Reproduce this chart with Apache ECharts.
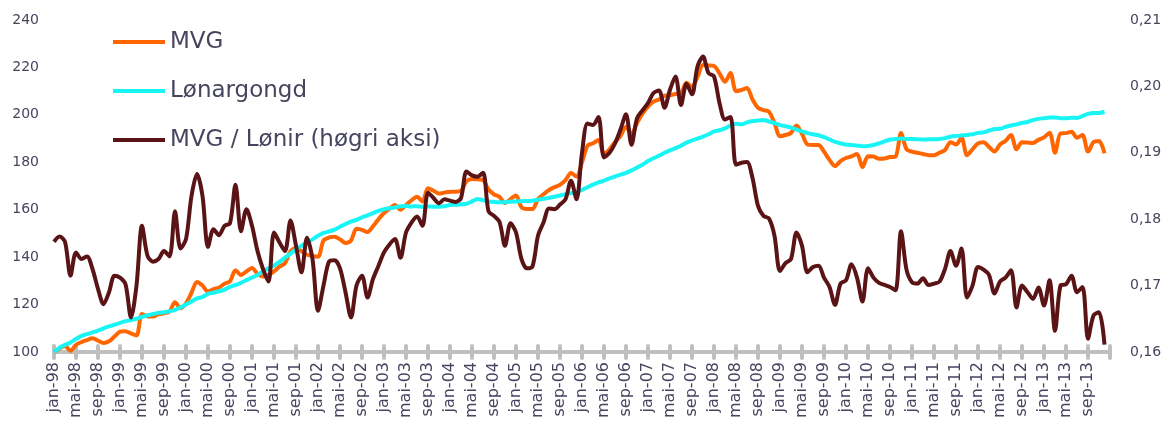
<!DOCTYPE html>
<html>
<head>
<meta charset="utf-8">
<script src="https://cdn.jsdelivr.net/npm/echarts@6/dist/echarts.min.js"></script>
<style>
  html, body { margin: 0; padding: 0; background: #fff; }
  #chart { width: 1168px; height: 421px; }
</style>
</head>
<body>
<div id="chart"></div>
<script>
  // månadsnamn brukt i x-aksen
  var monthNames = ['jan', 'feb', 'mar', 'apr', 'mai', 'jun', 'jul', 'aug', 'sep', 'okt', 'nov', 'des'];
  var firstYear = 1998;
  var lastYear = 2013;

  // MVG (venstre akse), jan-98 .. des-13
  var mvg = [
    100, 101.5, 102.5, 100.5, 103, 104.2, 105, 105.8, 104.8, 103.8, 104.5, 106.5,
    108.6, 108.8, 107.8, 107, 116, 115, 115, 116, 116.3, 117, 121, 118.5,
    120.5, 125, 129.5, 128, 125.5, 126.5, 127.2, 128.8, 129.8, 134.5, 132.5, 134,
    135.4, 133, 131.8, 132.5, 134, 136, 137.5, 142.5, 143.8, 142.5, 141, 140.5,
    140.2, 147, 148.3, 148.6, 147.5, 146, 147, 152, 151.5, 150.6, 153, 156,
    158.6, 160.5, 162, 160, 162, 164, 165.5, 163.5, 169, 168, 166.8, 167.2,
    167.6, 167.6, 168, 172, 173, 172.8, 172.5, 168.5, 166.5, 165.4, 162.8, 164.5,
    166, 161, 160.3, 160.3, 164.5, 166.5, 168.3, 169.5, 170.5, 172.5, 175.5, 174,
    180, 187, 188, 189.4, 183.5, 185.5, 188.5, 191, 195, 192, 196.5, 200.5,
    203.5, 205.6, 206.5, 208, 208.3, 208.8, 209.2, 213.5, 211.9, 216, 221, 220.8,
    220.6, 217.5, 214, 217.6, 210, 210.5, 211.3, 206.5, 203, 202, 201.3, 196.5,
    191, 191.5, 192.4, 195.5, 192, 187.5, 187.3, 187.3, 184.5, 181, 178.4, 180.5,
    181.8, 182.5, 183.5, 178, 182.5, 182.4, 181.5, 181.6, 182.2, 182.4, 192.3, 185.5,
    184.5, 184, 183.5, 183, 183, 184, 185.2, 188.5, 187.5, 190.3, 183, 185.5,
    188, 188.5, 186.5, 184.5, 187.5, 189, 191.5, 185.5, 188.5, 188.3, 188.1, 189.5,
    190.5, 192.5, 184, 192.2, 192.3, 192.9, 190.3, 191.5, 184.5, 188.5, 189, 183.8
  ];

  // Lønargongd (venstre akse)
  var lonargongd = [
    100, 101.8, 103, 104, 105.5, 106.8, 107.5, 108.3, 109, 110, 110.8, 111.5,
    112.3, 113, 113.5, 114, 114.8, 115.5, 116, 116.5, 116.8, 117.2, 117.8, 118.8,
    120, 121.3, 122.6, 123.2, 124.5, 125, 125.6, 126.3, 127.5, 128.2, 129.2, 130.3,
    131.4, 132.5, 134, 135.3, 136.5, 138, 139.8, 141.5, 143.3, 144.8, 146.2, 147.5,
    149, 150.2, 150.8, 151.6, 152.8, 154, 155, 155.7, 156.8, 157.6, 158.6, 159.5,
    160.2, 160.6, 161, 161.5, 161.6, 161.4, 161.5, 161.2, 161.4, 161.3, 161.3, 161.5,
    162, 162.1, 162.3, 162.5, 163.5, 164.5, 164, 163.5, 163.3, 163.2, 163.2, 163.4,
    163.5, 163.6, 163.7, 163.8, 164.2, 164.6, 165, 165.5, 166, 166.5, 167, 167.4,
    168.3, 169.5, 170.6, 171.5, 172.3, 173.2, 174, 174.8, 175.5, 176.6, 177.8, 179,
    180.5, 181.7, 182.8, 184, 185, 186, 187, 188.3, 189.2, 190, 190.8, 191.8,
    193, 193.5, 194.3, 195.5, 196.2, 196, 196.8, 197.4, 197.6, 197.8, 197.2, 196.5,
    195.7, 195.2, 194.6, 193.8, 193, 192.3, 191.8, 191.4, 190.6, 189.6, 188.6, 188,
    187.5, 187.3, 187, 186.8, 186.9, 187.3, 188, 188.8, 189.6, 189.8, 190, 189.8,
    189.8, 189.7, 189.6, 189.7, 189.7, 189.8, 190.2, 190.8, 191.1, 191.3, 191.5, 191.8,
    192.4, 192.6, 193.4, 194, 194.1, 194.9, 195.5, 196, 196.6, 197, 197.8, 198.3,
    198.6, 198.9, 198.9, 198.6, 198.6, 198.8, 198.7, 199.5, 200.4, 200.8, 200.8, 201.3
  ];

  // MVG / Lønir (høgre akse)
  var mvgPerLon = [
    0.1766, 0.1774, 0.1766, 0.1715, 0.1750, 0.1740, 0.1744, 0.1725, 0.1695, 0.1672, 0.1690, 0.1715,
    0.1712, 0.1702, 0.1652, 0.1700, 0.1790, 0.1745, 0.1736, 0.1740, 0.1752, 0.1744, 0.1812, 0.1756,
    0.1770, 0.1835, 0.1868, 0.1835, 0.1758, 0.1785, 0.1776, 0.1790, 0.1794, 0.1852, 0.1782, 0.1815,
    0.1790, 0.1752, 0.1725, 0.1706, 0.1780, 0.1765, 0.1752, 0.1798, 0.1760, 0.1720, 0.1772, 0.1740,
    0.1662, 0.1700, 0.1736, 0.1738, 0.1726, 0.1690, 0.1652, 0.1700, 0.1715, 0.1682, 0.1710, 0.1730,
    0.1750, 0.1762, 0.1770, 0.1742, 0.1780, 0.1795, 0.1804, 0.1790, 0.1840, 0.1832, 0.1824, 0.1830,
    0.1828, 0.1826, 0.1832, 0.1872, 0.1866, 0.1864, 0.1870, 0.1812, 0.1805, 0.1796, 0.1760, 0.1794,
    0.1780, 0.1740, 0.1726, 0.1729, 0.1775, 0.1795, 0.1816, 0.1815, 0.1822, 0.1830, 0.1858, 0.1830,
    0.1900, 0.1944, 0.1942, 0.1954, 0.1893, 0.1900, 0.1914, 0.1935, 0.1958, 0.1912, 0.1952, 0.1964,
    0.1975, 0.1990, 0.1994, 0.1968, 0.1995, 0.2015, 0.1972, 0.2004, 0.1988, 0.2030, 0.2045, 0.2020,
    0.2015, 0.1975, 0.1950, 0.1954, 0.1882, 0.1885, 0.1886, 0.1862, 0.1820, 0.1805, 0.1801, 0.1775,
    0.1722, 0.1734, 0.1740, 0.1780, 0.1760, 0.1720, 0.1728, 0.1730, 0.1712, 0.1698, 0.1671, 0.1703,
    0.1708, 0.1732, 0.1712, 0.1676, 0.1726, 0.1712, 0.1704, 0.1701, 0.1698, 0.1693, 0.1782, 0.1724,
    0.1705, 0.1703, 0.1711, 0.1701, 0.1703, 0.1706, 0.1725, 0.1752, 0.1730, 0.1756, 0.1682, 0.1700,
    0.1728, 0.1724, 0.1716, 0.1688, 0.1706, 0.1712, 0.1723, 0.1667, 0.1700, 0.1690, 0.1680, 0.1697,
    0.1670, 0.1708, 0.1632, 0.1700, 0.1702, 0.1715, 0.1690, 0.1698, 0.1620, 0.1655, 0.1660, 0.1611
  ];

  var categories = [];
  for (var y = firstYear; y <= lastYear; y++) {
    for (var m = 0; m < 12; m++) {
      categories.push(monthNames[m] + '-' + String(y).slice(2));
    }
  }
  categories.push('jan-' + String(lastYear + 1).slice(2)); // siste tikk, utan etikett

  var textColor = '#45455f';
  var axisGrey = '#bfbfbf';
  var fontFamily = 'DejaVu Sans';

  var chart = echarts.init(document.getElementById('chart'));
  chart.setOption({
    animation: false,
    textStyle: { fontFamily: fontFamily },
    grid: { left: 54, right: 58, top: 20, bottom: 69 },
    legend: {
      orient: 'vertical',
      left: 108,
      top: 25,
      icon: 'rect',
      itemWidth: 52,
      itemHeight: 4,
      itemGap: 25,
      textStyle: { color: textColor, fontSize: 23, lineHeight: 24, fontFamily: fontFamily },
      data: ['MVG', 'Lønargongd', 'MVG / Lønir (høgri aksi)']
    },
    xAxis: [
      {
        type: 'category',
        data: categories,
        boundaryGap: false,
        axisLine: { lineStyle: { color: axisGrey, width: 4 } },
        axisTick: {
          interval: function (idx) { return idx % 4 === 0; },
          length: 6,
          lineStyle: { color: axisGrey, width: 4, cap: 'round' }
        },
        axisLabel: {
          interval: function (idx) { return idx % 4 === 0 && idx < categories.length - 1; },
          rotate: 90,
          margin: 10,
          color: textColor,
          fontSize: 16
        },
        splitLine: { show: false }
      },
      {
        // tikkmerke som stikk opp over aksen
        type: 'category',
        data: categories,
        boundaryGap: false,
        position: 'bottom',
        axisLine: { show: false },
        axisTick: {
          inside: true,
          interval: function (idx) { return idx % 4 === 0; },
          length: 6,
          lineStyle: { color: axisGrey, width: 4, cap: 'round' }
        },
        axisLabel: { show: false },
        splitLine: { show: false }
      }
    ],
    yAxis: [
      {
        type: 'value',
        min: 100,
        max: 240,
        interval: 20,
        axisLine: { show: false },
        axisTick: { show: false },
        splitLine: { show: false },
        axisLabel: { color: textColor, fontSize: 14, margin: 15 }
      },
      {
        type: 'value',
        position: 'right',
        min: 0.16,
        max: 0.21,
        interval: 0.01,
        axisLine: { show: false },
        axisTick: { show: false },
        splitLine: { show: false },
        axisLabel: {
          color: textColor,
          fontSize: 14,
          margin: 20,
          formatter: function (v) { return v.toFixed(2).replace('.', ','); }
        }
      }
    ],
    series: [
      {
        name: 'MVG',
        type: 'line',
        data: mvg,
        symbol: 'none',
        smooth: 0.3,
        lineStyle: { color: '#ff6600', width: 4 },
        itemStyle: { color: '#ff6600' }
      },
      {
        name: 'Lønargongd',
        type: 'line',
        data: lonargongd,
        symbol: 'none',
        smooth: 0.3,
        lineStyle: { color: '#19f5f5', width: 4 },
        itemStyle: { color: '#19f5f5' }
      },
      {
        name: 'MVG / Lønir (høgri aksi)',
        type: 'line',
        yAxisIndex: 1,
        data: mvgPerLon,
        symbol: 'none',
        smooth: 0.3,
        lineStyle: { color: '#5a1416', width: 4 },
        itemStyle: { color: '#5a1416' }
      }
    ]
  });
</script>
</body>
</html>
